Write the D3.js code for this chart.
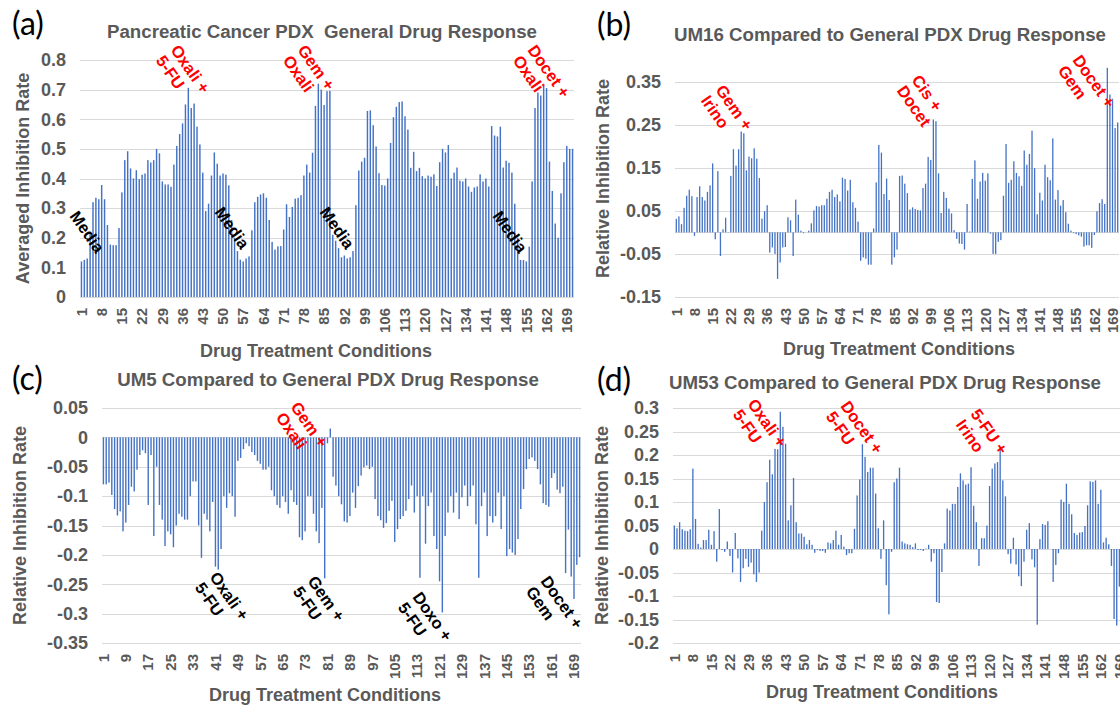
<!DOCTYPE html>
<html>
<head>
<meta charset="utf-8">
<script src="https://cdn.jsdelivr.net/npm/d3@7"></script>
<style>
  body { margin: 0; background: #fff; }
  svg { display: block; font-family: "Liberation Sans", Arial, sans-serif; }
</style>
</head>
<body>
<svg id="fig" width="1120" height="705"></svg>
<script>
// drug treatment condition numbers (x categories)
const conditions = d3.range(1, 172);
const ticksBy7 = [1, 8, 15, 22, 29, 36, 43, 50, 57, 64, 71, 78, 85, 92, 99, 106, 113, 120, 127, 134, 141, 148, 155, 162, 169];
const ticksBy8 = [1, 9, 17, 25, 33, 41, 49, 57, 65, 73, 81, 89, 97, 105, 113, 121, 129, 137, 145, 153, 161, 169];

// (a) averaged inhibition rate over all PDX models
const generalResponse = [
  0.12, 0.125, 0.13, 0.22, 0.32, 0.335, 0.33, 0.378, 0.33, 0.243,
  0.177, 0.175, 0.175, 0.233, 0.353, 0.462, 0.492, 0.434, 0.40, 0.428,
  0.398, 0.413, 0.417, 0.462, 0.454, 0.462, 0.50, 0.485, 0.39, 0.38,
  0.38, 0.372, 0.447, 0.51, 0.55, 0.586, 0.65, 0.706, 0.638, 0.653,
  0.575, 0.515, 0.42, 0.29, 0.315, 0.41, 0.488, 0.45, 0.41, 0.417,
  0.413, 0.377, 0.26, 0.2, 0.155, 0.126, 0.12, 0.13, 0.137, 0.225,
  0.32, 0.338, 0.346, 0.35, 0.335, 0.26, 0.186, 0.16, 0.171, 0.172,
  0.228, 0.313, 0.27, 0.304, 0.332, 0.335, 0.344, 0.41, 0.447, 0.42,
  0.487, 0.645, 0.72, 0.70, 0.648, 0.695, 0.696, 0.21, 0.19, 0.165,
  0.134, 0.14, 0.13, 0.134, 0.155, 0.31, 0.427, 0.457, 0.47, 0.628,
  0.63, 0.58, 0.508, 0.418, 0.378, 0.376, 0.40, 0.52, 0.607, 0.642,
  0.658, 0.66, 0.61, 0.565, 0.436, 0.49, 0.425, 0.436, 0.408, 0.40,
  0.41, 0.406, 0.414, 0.375, 0.455, 0.50, 0.488, 0.513, 0.40, 0.42,
  0.437, 0.393, 0.39, 0.40, 0.373, 0.355, 0.37, 0.373, 0.414, 0.39,
  0.40, 0.373, 0.577, 0.545, 0.542, 0.575, 0.437, 0.46, 0.453, 0.42,
  0.315, 0.2, 0.125, 0.125, 0.12, 0.17, 0.39, 0.638, 0.69, 0.68,
  0.72, 0.705, 0.457, 0.358, 0.248, 0.2, 0.35, 0.455, 0.51, 0.5,
  0.5
];

// (b) UM16 relative to the general response
const um16Relative = [
  0.0315, 0.037, 0.019, 0.057, 0.085, 0.099, 0.084, -0.008, 0.082, 0.107,
  0.082, 0.074, 0.094, 0.109, 0.16, -0.016, 0.142, -0.055, 0.007, 0.034,
  0.001, 0.131, 0.193, 0.155, 0.193, 0.234, 0.23, 0.144, 0.176, 0.172,
  0.195, 0.171, 0.126, 0.032, 0.049, 0.063, -0.047, -0.035, -0.05, -0.108,
  -0.07, -0.035, -0.034, 0.035, 0.028, -0.055, 0.076, 0.041, 0.004, -0.002,
  0, 0.004, 0.021, 0.051, 0.061, 0.06, 0.063, 0.063, 0.078, 0.094,
  0.099, 0.082, 0.088, 0.072, 0.127, 0.124, 0.097, 0.122, 0.07, 0.057,
  0.025, -0.066, -0.058, -0.061, -0.075, -0.075, 0.009, 0.116, 0.203, 0.185,
  0.089, 0.125, 0.075, -0.075, -0.058, -0.04, 0.131, 0.132, 0.113, 0.091,
  0.053, 0.058, 0.054, 0.052, 0.051, 0.103, 0.113, 0.175, 0.168, 0.262,
  0.258, 0.137, 0.045, 0.094, 0.08, 0.055, 0.044, 0.005, -0.015, -0.026,
  -0.027, -0.04, 0.066, 0.002, 0.124, 0.167, 0.078, 0.118, 0.138, 0.12,
  0.137, -0.003, -0.05, -0.05, -0.022, -0.018, 0.085, 0.205, 0.115, 0.122,
  0.165, 0.138, 0.13, 0.108, 0.19, 0.157, 0.182, 0.236, 0.149, 0.042,
  0.092, 0.074, 0.157, 0.128, 0.121, 0.218, 0.076, 0.098, 0.062, 0.075,
  0.047, 0.02, 0.004, -0.002, -0.004, -0.007, -0.01, -0.033, -0.03, -0.03,
  -0.036, -0.006, 0.049, 0.068, 0.077, 0.066, 0.382, 0.32, 0.31, 0.242,
  0.255
];

// (c) UM5 relative to the general response
const um5Relative = [
  -0.08, -0.08, -0.077, -0.098, -0.122, -0.133, -0.126, -0.16, -0.145, -0.115,
  -0.084, -0.092, -0.055, -0.03, -0.022, -0.027, -0.115, -0.03, -0.168, -0.05,
  -0.115, -0.14, -0.185, -0.16, -0.165, -0.187, -0.15, -0.13, -0.135, -0.14,
  -0.14, -0.1, -0.075, -0.075, -0.15, -0.205, -0.13, -0.14, -0.16, -0.11,
  -0.22, -0.225, -0.19, -0.1, -0.12, -0.095, -0.1, -0.135, -0.04, -0.035,
  -0.02, -0.01, -0.015, -0.025, -0.03, -0.04, -0.045, -0.055, -0.055, -0.05,
  -0.09, -0.1, -0.115, -0.12, -0.1, -0.11, -0.13, -0.09, -0.11, -0.115,
  -0.17, -0.175, -0.16, -0.1, -0.1, -0.13, -0.16, -0.18, -0.12, -0.24,
  -0.01, 0.015, -0.067, -0.082, -0.1, -0.114, -0.143, -0.145, -0.134, -0.094,
  -0.12, -0.083, -0.065, -0.051, -0.048, -0.054, -0.05, -0.105, -0.134, -0.141,
  -0.154, -0.146, -0.125, -0.108, -0.178, -0.156, -0.139, -0.134, -0.125, -0.105,
  -0.082, -0.128, -0.1, -0.239, -0.1, -0.181, -0.117, -0.094, -0.168, -0.19,
  -0.245, -0.298, -0.168, -0.128, -0.1, -0.128, -0.094, -0.139, -0.102, -0.082,
  -0.117, -0.1, -0.082, -0.148, -0.239, -0.117, -0.094, -0.168, -0.134, -0.145,
  -0.134, -0.094, -0.156, -0.1, -0.202, -0.19, -0.196, -0.2, -0.173, -0.122,
  -0.088, -0.054, -0.037, -0.034, -0.04, -0.054, -0.08, -0.112, -0.115, -0.118,
  -0.069, -0.061, -0.089, -0.095, -0.084, -0.231, -0.157, -0.237, -0.275, -0.217,
  -0.204
];

// (d) UM53 relative to the general response
const um53Relative = [
  0.05, 0.044, 0.057, 0.042, 0.039, 0.038, 0.042, 0.171, 0.064, 0.011,
  0.003, 0.019, 0.019, 0.041, 0.009, 0.038, -0.027, 0.085, -0.002, -0.006,
  0.016, -0.015, -0.05, 0.034, -0.02, -0.07, -0.041, -0.021, -0.038, -0.029,
  -0.054, -0.07, -0.05, 0.039, 0.1, 0.142, 0.19, 0.159, 0.213, 0.212,
  0.292, 0.26, 0.224, 0.061, 0.093, 0.151, 0.057, 0.033, 0.033, 0.026,
  0.01, 0.019, 0.009, -0.008, -0.002, -0.004, -0.004, -0.008, 0.014, 0.012,
  0.019, 0.039, 0.009, 0.03, 0.005, -0.013, -0.009, -0.009, 0.043, 0.114,
  0.148, 0.223, 0.196, 0.164, 0.173, 0.173, 0.118, 0.044, -0.021, 0.061,
  -0.077, -0.139, -0.006, 0.142, 0.15, 0.173, 0.016, 0.012, 0.01, 0.009,
  0.004, 0.012, -0.002, -0.002, -0.004, 0.001, 0.009, -0.027, -0.009, -0.113,
  -0.115, -0.049, 0.012, 0.086, 0.082, 0.096, 0.096, 0.132, 0.161, 0.146,
  0.137, 0.139, 0.174, 0.092, 0.057, -0.036, 0.023, 0.023, 0.05, 0.134,
  0.171, 0.182, 0.185, 0.214, 0.146, 0.112, -0.011, -0.031, 0.024, -0.033,
  -0.058, -0.079, -0.027, 0.041, 0.055, -0.022, -0.039, -0.161, 0.021, 0.053,
  0.051, 0.059, 0, -0.07, -0.034, -0.009, 0.105, 0.1, 0.139, 0.096,
  0.074, 0.034, 0.03, 0.035, 0.036, 0.049, 0.093, 0.144, 0.143, 0.146,
  0.096, 0.126, 0.014, 0.024, 0.01, -0.036, -0.149, -0.163, -0.08, -0.15,
  -0.03
];

const yTicksA = [0, 0.1, 0.2, 0.3, 0.4, 0.5, 0.6, 0.7, 0.8];
const yTicksB = [-0.15, -0.05, 0.05, 0.15, 0.25, 0.35];
const yTicksC = [0.05, 0, -0.05, -0.1, -0.15, -0.2, -0.25, -0.3, -0.35];
const yTicksD = [0.3, 0.25, 0.2, 0.15, 0.1, 0.05, 0, -0.05, -0.1, -0.15, -0.2];

const svg = d3.select("#fig");
const grey = "#595959";
const fmt = v => String(+v.toFixed(2));

const panels = [
  { tag: "(a)", tagX: 12, tagY: 35, values: generalResponse, xTicks: ticksBy7,
    left: 80, right: 574, top: 60, bottom: 297, domain: [0, 0.8], yTicks: yTicksA,
    title: "Pancreatic Cancer PDX  General Drug Response", titleX: 322, titleY: 38,
    yTitle: "Averaged Inhibition Rate", yTitleX: 23, xTitleX: 316, xTitleY: 357,
    notes: [
      { lines: ["Oxali +", "5-FU"], x: 170, y: 50, color: "#ff0000" },
      { lines: ["Gem +", "Oxali"], x: 297, y: 50, color: "#ff0000" },
      { lines: ["Docet +", "Oxali"], x: 527, y: 50, color: "#ff0000" },
      { lines: ["Media"], x: 69, y: 216, color: "#000" },
      { lines: ["Media"], x: 214, y: 212, color: "#000" },
      { lines: ["Media"], x: 319, y: 212, color: "#000" },
      { lines: ["Media"], x: 492, y: 216, color: "#000" }
    ] },
  { tag: "(b)", tagX: 597, tagY: 36, values: um16Relative, xTicks: ticksBy7,
    left: 675, right: 1119, top: 60, bottom: 297, domain: [-0.15, 0.4], yTicks: yTicksB,
    title: "UM16 Compared to General PDX Drug Response", titleX: 890, titleY: 41,
    yTitle: "Relative Inhibition Rate", yTitleX: 603, xTitleX: 899, xTitleY: 355,
    notes: [
      { lines: ["Gem +", "Irino"], x: 715, y: 90, color: "#ff0000" },
      { lines: ["Cis +", "Docet"], x: 911, y: 80, color: "#ff0000" },
      { lines: ["Docet +", "Gem"], x: 1072, y: 60, color: "#ff0000" }
    ] },
  { tag: "(c)", tagX: 12, tagY: 390, values: um5Relative, xTicks: ticksBy8,
    left: 102, right: 581, top: 408, bottom: 643, domain: [-0.35, 0.05], yTicks: yTicksC,
    title: "UM5 Compared to General PDX Drug Response", titleX: 328, titleY: 386,
    yTitle: "Relative Inhibition Rate", yTitleX: 20, xTitleX: 325, xTitleY: 701,
    notes: [
      { lines: ["Gem +", "Oxali"], x: 290, y: 407, color: "#ff0000" },
      { lines: ["Oxali +", "5-FU"], x: 209, y: 577, color: "#000" },
      { lines: ["Gem +", "5-FU"], x: 307, y: 581, color: "#000" },
      { lines: ["Doxo +", "5-FU"], x: 412, y: 597, color: "#000" },
      { lines: ["Docet +", "Gem"], x: 540, y: 581, color: "#000" }
    ] },
  { tag: "(d)", tagX: 597, tagY: 391, values: um53Relative, xTicks: ticksBy7,
    left: 673, right: 1126, top: 408, bottom: 643, domain: [-0.2, 0.3], yTicks: yTicksD,
    title: "UM53 Compared to General PDX Drug Response", titleX: 885, titleY: 389,
    yTitle: "Relative Inhibition Rate", yTitleX: 602, xTitleX: 882, xTitleY: 698,
    notes: [
      { lines: ["Oxali +", "5-FU"], x: 747, y: 404, color: "#ff0000" },
      { lines: ["Docet +", "5-FU"], x: 840, y: 406, color: "#ff0000" },
      { lines: ["5-FU +", "Irino"], x: 970, y: 414, color: "#ff0000" }
    ] }
];

panels.forEach(drawPanel);

function drawPanel(p) {
  const g = svg.append("g");

  const x = d3.scaleBand()
    .domain(conditions)
    .range([p.left, p.right])
    .paddingInner(0.5)
    .paddingOuter(0.25);

  const y = d3.scaleLinear()
    .domain(p.domain)
    .range([p.bottom, p.top]);

  // gridlines + zero line
  const grid = p.yTicks.concat([0]);
  g.append("g").selectAll("line")
    .data(grid)
    .join("line")
    .attr("x1", p.left).attr("x2", p.right)
    .attr("y1", d => Math.round(y(d)) + 0.5)
    .attr("y2", d => Math.round(y(d)) + 0.5)
    .attr("stroke", "#d9d9d9")
    .attr("stroke-width", 1);

  // bars
  g.append("g").selectAll("rect")
    .data(p.values)
    .join("rect")
    .attr("x", (d, i) => x(conditions[i]))
    .attr("width", x.bandwidth())
    .attr("y", d => y(Math.max(0, d)))
    .attr("height", d => Math.abs(y(d) - y(0)))
    .attr("fill", "#4472c4");

  // y axis labels
  g.append("g")
    .attr("transform", `translate(${p.left},0)`)
    .call(d3.axisLeft(y).tickValues(p.yTicks).tickSize(0).tickPadding(14).tickFormat(fmt))
    .call(a => a.select(".domain").remove())
    .selectAll("text")
    .attr("font-family", "Liberation Sans, Arial, sans-serif")
    .attr("font-size", 18)
    .attr("font-weight", "bold")
    .attr("fill", grey);

  // x axis labels, rotated
  g.append("g")
    .attr("transform", `translate(0,${p.bottom})`)
    .call(d3.axisBottom(x).tickValues(p.xTicks).tickSize(0))
    .call(a => a.select(".domain").remove())
    .selectAll("text")
    .attr("transform", "rotate(-90)")
    .attr("x", -11)
    .attr("y", 0)
    .attr("dy", "0.35em")
    .attr("text-anchor", "end")
    .attr("font-family", "Liberation Sans, Arial, sans-serif")
    .attr("font-size", 15)
    .attr("font-weight", "bold")
    .attr("fill", grey);

  // titles
  g.append("text")
    .attr("x", p.titleX).attr("y", p.titleY)
    .attr("text-anchor", "middle")
    .attr("font-size", 18.7).attr("font-weight", "bold")
    .attr("fill", grey)
    .style("white-space", "pre")
    .text(p.title);

  g.append("text")
    .attr("transform", `translate(${p.yTitleX},${(p.top + p.bottom) / 2}) rotate(-90)`)
    .attr("dy", "0.35em")
    .attr("text-anchor", "middle")
    .attr("font-size", 18).attr("font-weight", "bold")
    .attr("fill", grey)
    .text(p.yTitle);

  g.append("text")
    .attr("x", p.xTitleX).attr("y", p.xTitleY)
    .attr("text-anchor", "middle")
    .attr("font-size", 18).attr("font-weight", "bold")
    .attr("fill", grey)
    .text("Drug Treatment Conditions");

  // panel letter
  g.append("text")
    .attr("x", p.tagX).attr("y", p.tagY)
    .attr("font-family", "Lato, 'Open Sans', sans-serif")
    .attr("font-size", 32)
    .attr("fill", "#000")
    .text(p.tag);

  // rotated drug combination notes
  p.notes.forEach(n => {
    const t = g.append("text")
      .attr("transform", `translate(${n.x},${n.y}) rotate(55)`)
      .attr("font-size", 16.5).attr("font-weight", "bold")
      .attr("fill", n.color);
    n.lines.forEach((line, i) => {
      t.append("tspan").attr("x", 0).attr("dy", i ? "1.1em" : 0).text(line);
    });
  });
}
</script>
</body>
</html>
